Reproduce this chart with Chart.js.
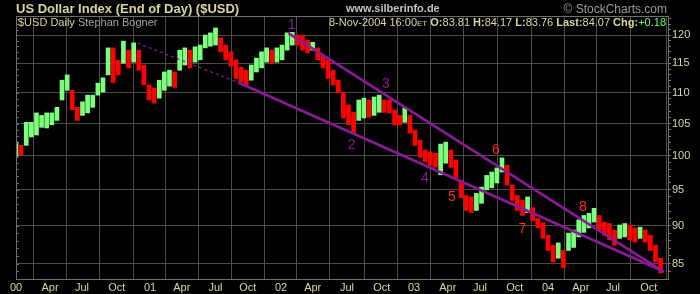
<!DOCTYPE html>
<html>
<head>
<meta charset="utf-8">
<script src="https://cdn.jsdelivr.net/npm/chart.js@4.4.0/dist/chart.umd.min.js"></script>
<style>
  html, body { margin: 0; padding: 0; background: #000; }
</style>
</head>
<body>
<canvas id="chartId" width="700" height="294"></canvas>
<script>
// bi-weekly high / low of $USD, Jan 2000 .. Nov 2004
const highs = [
  102.1, 101.6, 105.2, 105.2, 106.7, 106.3, 106.7, 106.7, 107.6, 112.1,
  113.0, 110.4, 107.6, 108.5, 109.6, 109.6, 111.6, 112.5, 117.7, 117.7,
  115.5, 118.9, 117.3, 118.6, 117.3, 114.7, 111.3, 110.8, 112.1, 113.5,
  113.8, 113.5, 117.3, 117.7, 117.3, 117.9, 118.2, 120.0, 120.4, 121.3,
  119.5, 118.2, 117.0, 115.6, 114.3, 113.8, 114.7, 115.9, 117.0, 117.7,
  117.3, 117.7, 118.2, 120.4, 120.5, 120.0, 120.0, 119.1, 118.7, 117.7,
  116.4, 115.6, 113.8, 112.1, 110.0, 108.0, 106.8, 108.8, 109.1, 108.8,
  109.3, 109.6, 108.8, 108.8, 107.2, 106.3, 107.5, 106.3, 104.0, 102.4,
  100.9, 100.6, 100.4, 101.8, 102.1, 100.9, 99.4, 96.4, 94.2, 94.0,
  94.5, 95.4, 97.1, 97.6, 98.2, 99.7, 98.6, 95.7, 94.2, 93.5,
  94.0, 92.5, 91.0, 90.4, 88.7, 87.4, 87.7, 86.7, 89.0, 89.4,
  90.8, 91.4, 91.7, 92.4, 91.4, 90.5, 90.3, 89.4, 90.1, 90.3,
  90.1, 89.7, 89.8, 89.4, 88.7, 87.4, 85.7
];
const lows = [
  99.8, 100.1, 101.6, 102.9, 103.2, 104.4, 104.3, 104.8, 105.5, 108.8,
  110.4, 107.2, 105.5, 106.3, 106.7, 107.6, 109.6, 110.1, 113.0, 111.7,
  113.0, 115.0, 114.2, 115.2, 113.8, 111.3, 108.8, 108.3, 109.1, 110.4,
  111.1, 110.9, 113.8, 114.7, 114.2, 115.2, 115.6, 117.7, 118.0, 118.2,
  117.0, 115.6, 114.5, 112.4, 111.8, 111.3, 112.1, 113.5, 114.2, 115.2,
  115.0, 115.2, 115.6, 117.3, 118.2, 118.2, 117.3, 116.8, 117.3, 115.6,
  114.2, 112.4, 111.3, 110.0, 105.9, 104.8, 103.6, 105.5, 105.9, 106.0,
  106.3, 106.8, 106.8, 106.7, 104.8, 104.8, 105.2, 103.5, 101.6, 99.8,
  99.1, 98.6, 98.3, 97.2, 98.9, 98.3, 96.8, 93.9, 92.1, 91.8,
  92.1, 93.1, 95.0, 95.3, 96.0, 97.6, 95.7, 93.5, 92.1, 91.4,
  91.8, 90.7, 89.7, 88.3, 86.7, 85.2, 85.7, 84.5, 86.7, 87.1,
  88.5, 89.1, 89.7, 90.5, 89.4, 88.7, 88.1, 87.4, 88.3, 88.5,
  88.1, 87.8, 88.3, 87.8, 86.7, 85.2, 83.8
];

// quarter grid (position in bi-weekly periods) and its labels
const tickPos = [0, 6.65, 12.9, 19.7, 26.2, 32.4, 39.0, 45.3, 51.8, 58.0,
                 64.7, 71.5, 77.8, 84.4, 90.7, 97.5, 104.0, 110.4, 116.7, 123.7];
const tickLabels = ["00", "Apr", "Jul", "Oct", "01", "Apr", "Jul", "Oct", "02", "Apr",
                    "Jul", "Oct", "03", "Apr", "Jul", "Oct", "04", "Apr", "Jul", "Oct"];
const priceLabels = [85, 90, 95, 100, 105, 110, 115, 120];

// trend channel drawn by the author
const upperLineX = [53.23, 126.66];
const upperLineY = [120.36, 83.95];
const lowerLineX = [43.45, 126.66];
const lowerLineY = [111.7, 84.0];
const lowerDashX = [23.75, 43.45];
const lowerDashY = [118.56, 111.7];

// wave counts
const waveText = ["1", "2", "3", "4", "5", "6", "7", "8"];
const waveX = [53.9, 65.6, 72.3, 79.95, 85.2, 93.8, 99.0, 110.8];
const waveY = [121.8, 101.6, 111.5, 96.7, 93.9, 100.9, 89.5, 92.5];
const waveColor = ["#8a1a96", "#8a1a96", "#8a1a96", "#8a1a96", "#ff2a2a", "#ff2a2a", "#ff2a2a", "#ff2a2a"];

const NARROW = "'Liberation Sans Narrow', 'Liberation Sans', Arial, sans-serif";
const SANS = "'Liberation Sans', Arial, sans-serif";
const TAN = "#d9d5a3";
const GRID = "#4b4b4b";
const PURPLE = "#8a1a96";
const GREEN = "#7dff7d";
const RED = "#ff0000";

const barColors = highs.map((h, i) => {
  if (i === 0) return GREEN;
  return (h + lows[i]) >= (highs[i - 1] + lows[i - 1]) ? GREEN : RED;
});

const toPts = (xs, ys) => xs.map((x, i) => ({ x: x, y: ys[i] }));

const decor = {
  id: "decor",
  beforeDraw(chart) {
    const ctx = chart.ctx;
    ctx.save();
    ctx.fillStyle = "#000";
    ctx.fillRect(0, 0, chart.width, chart.height);
    ctx.restore();
  },
  afterDatasetsDraw(chart) {
    const { ctx, chartArea: a, scales } = chart;
    ctx.save();
    // wave numbers
    ctx.font = "14px " + NARROW;
    ctx.textAlign = "center";
    ctx.textBaseline = "middle";
    waveText.forEach((t, i) => {
      ctx.fillStyle = waveColor[i];
      ctx.fillText(t, scales.x.getPixelForValue(waveX[i]), scales.y.getPixelForValue(waveY[i]));
    });
    // small ticks on the left edge
    ctx.strokeStyle = "#6a6a6a";
    ctx.lineWidth = 1;
    for (let v = 84; v <= 123; v++) {
      const py = Math.round(scales.y.getPixelForValue(v)) + 0.5;
      ctx.beginPath();
      ctx.moveTo(a.left, py);
      ctx.lineTo(a.left + 3, py);
      ctx.stroke();
    }
    // frame
    ctx.strokeStyle = "#6e6e6e";
    ctx.strokeRect(a.left + 0.5, a.top + 0.5, a.right - a.left, a.bottom - a.top);
    ctx.restore();
  },
  afterDraw(chart) {
    const { ctx, chartArea: a } = chart;
    ctx.save();
    ctx.textBaseline = "alphabetic";
    ctx.textAlign = "left";
    ctx.font = "bold 13px " + SANS;
    ctx.fillStyle = TAN;
    ctx.fillText("US Dollar Index (End of Day) ($USD)", 16, 13);
    ctx.font = "bold 11px " + SANS;
    ctx.fillStyle = "#c4c4c4";
    ctx.fillText("www.silberinfo.de", 346, 12);
    ctx.font = "12px " + SANS;
    ctx.fillStyle = "#9c9c9c";
    ctx.textAlign = "right";
    ctx.fillText("\u00a9 StockCharts.com", 667, 13);

    // second line inside the plot
    ctx.textAlign = "left";
    ctx.font = "11px " + SANS;
    ctx.fillStyle = TAN;
    ctx.fillText("$USD Daily", a.left + 2, 26);
    const w1 = ctx.measureText("$USD Daily ").width;
    ctx.fillStyle = "#a4a4a4";
    ctx.fillText("Stephan Bogner", a.left + 2 + w1, 26);

    const parts = [
      ["8-Nov-2004 16:00", "11px", TAN],
      ["ET", "8px", TAN],
      [" O:", "bold 11px", TAN], ["83.81", "11px", TAN],
      [" H:", "bold 11px", TAN], ["84.17", "11px", TAN],
      [" L:", "bold 11px", TAN], ["83.76", "11px", TAN],
      [" Last:", "bold 11px", TAN], ["84.07", "11px", TAN],
      [" Chg:", "bold 11px", TAN], ["+0.18", "11px", "#6dff6d"]
    ];
    let total = 0;
    parts.forEach(p => { ctx.font = p[1] + " " + SANS; total += ctx.measureText(p[0]).width; });
    let px = a.right - 2 - total;
    parts.forEach(p => {
      ctx.font = p[1] + " " + SANS;
      ctx.fillStyle = p[2];
      ctx.fillText(p[0], px, 26);
      px += ctx.measureText(p[0]).width;
    });
    ctx.restore();
  }
};

const ctx = document.getElementById("chartId");
new Chart(ctx, {
  type: "bar",
  data: {
    datasets: [
      {
        type: "line",
        data: toPts(upperLineX, upperLineY),
        borderColor: PURPLE,
        borderWidth: 2.6,
        pointRadius: 0,
        order: 1
      },
      {
        type: "line",
        data: toPts(lowerLineX, lowerLineY),
        borderColor: PURPLE,
        borderWidth: 2.6,
        pointRadius: 0,
        order: 1
      },
      {
        type: "line",
        data: toPts(lowerDashX, lowerDashY),
        borderColor: PURPLE,
        borderWidth: 1.2,
        borderDash: [3, 3],
        pointRadius: 0,
        order: 1
      },
      {
        type: "bar",
        data: lows.map((lo, i) => ({ x: i, y: [lo, highs[i]] })),
        backgroundColor: barColors,
        borderWidth: 0,
        barThickness: 4,
        order: 2
      }
    ]
  },
  options: {
    responsive: false,
    devicePixelRatio: 1,
    animation: false,
    events: [],
    layout: { padding: { left: 16, top: 16, right: 0, bottom: 0 } },
    plugins: { legend: { display: false }, tooltip: { enabled: false } },
    scales: {
      x: {
        type: "linear",
        offset: false,
        min: 0,
        max: 127.45,
        afterBuildTicks: s => { s.ticks = tickPos.map(v => ({ value: v })); },
        afterFit: s => { s.height = 15; },
        grid: { color: GRID, drawTicks: false },
        border: { display: false },
        ticks: {
          autoSkip: false,
          maxRotation: 0,
          padding: 2,
          color: TAN,
          font: { family: NARROW, size: 11 },
          callback: (v, i) => tickLabels[i]
        }
      },
      y: {
        type: "logarithmic",
        position: "right",
        min: 83.05,
        max: 123.5,
        afterBuildTicks: s => {
          const t = [];
          for (let v = 84; v <= 123; v++) t.push({ value: v });
          s.ticks = t;
        },
        afterFit: s => { s.width = 32; },
        grid: {
          color: c => (priceLabels.includes(c.tick && c.tick.value) ? GRID : "rgba(0,0,0,0)"),
          tickColor: "#7a7a7a",
          tickLength: 3
        },
        border: { display: false },
        ticks: {
          autoSkip: false,
          padding: 1,
          color: TAN,
          font: { family: NARROW, size: 11 },
          callback: v => (priceLabels.includes(v) ? String(v) : "")
        }
      }
    }
  },
  plugins: [decor]
});
</script>
</body>
</html>
